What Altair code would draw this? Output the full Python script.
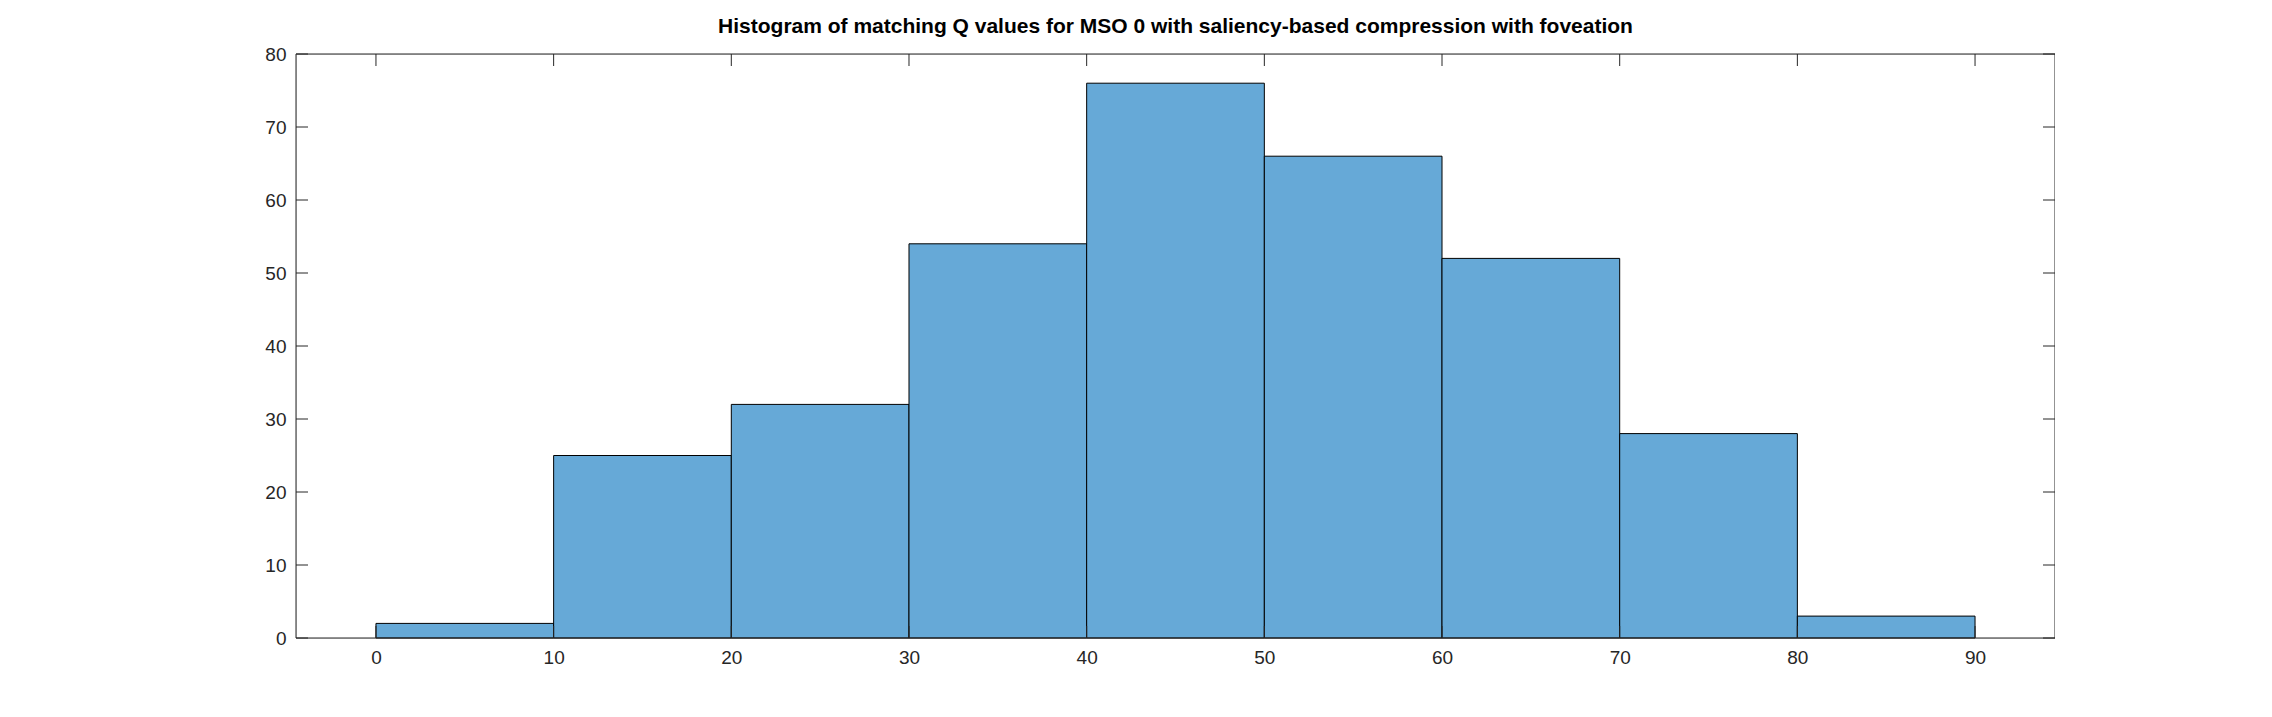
import altair as alt
import pandas as pd

bin_start = [0, 10, 20, 30, 40, 50, 60, 70, 80]
counts = [2, 25, 32, 54, 76, 66, 52, 28, 3]
x_ticks = [0, 10, 20, 30, 40, 50, 60, 70, 80, 90]
y_ticks = [0, 10, 20, 30, 40, 50, 60, 70, 80]

df = pd.DataFrame({"start": bin_start, "end": [b + 10 for b in bin_start], "count": counts})
W, H = 1759, 584

xs = alt.Scale(domain=[-4.5, 94.5], nice=False, zero=False)
ys = alt.Scale(domain=[0, 80], nice=False)
font = "Liberation Sans"

bars = alt.Chart(df).mark_rect(color="#66a9d7", stroke="black", strokeWidth=1).encode(
    x=alt.X("start:Q", scale=xs, axis=alt.Axis(values=x_ticks, title=None, grid=False, ticks=False,
            labelFont=font, labelFontSize=19, labelColor="#262626", labelPadding=10, domain=False)),
    x2="end:Q",
    y=alt.Y("count:Q", scale=ys, axis=alt.Axis(values=y_ticks, title=None, grid=False, ticks=False,
            labelFont=font, labelFontSize=19, labelColor="#262626", labelPadding=10, domain=False)),
    y2=alt.datum(0),
)

xt = pd.DataFrame({"v": x_ticks})
yt = pd.DataFrame({"v": y_ticks})
tc = "#262626"
xb = alt.Chart(xt).mark_rule(color=tc).encode(x=alt.X("v:Q", scale=xs), y=alt.value(H), y2=alt.value(H - 12))
xtp = alt.Chart(xt).mark_rule(color=tc).encode(x=alt.X("v:Q", scale=xs), y=alt.value(0), y2=alt.value(12))
yl = alt.Chart(yt).mark_rule(color=tc).encode(y=alt.Y("v:Q", scale=ys), x=alt.value(0), x2=alt.value(12))
yr = alt.Chart(yt).mark_rule(color=tc).encode(y=alt.Y("v:Q", scale=ys), x=alt.value(W), x2=alt.value(W - 12))
border = alt.Chart(pd.DataFrame({"a": [0]})).mark_rect(fill=None, fillOpacity=0, stroke=tc, strokeWidth=1).encode(
    x=alt.value(0), x2=alt.value(W), y=alt.value(0), y2=alt.value(H))

chart = alt.layer(bars, xb, xtp, yl, yr, border).properties(
    width=W, height=H,
    title=alt.TitleParams("Histogram of matching Q values for MSO 0 with saliency-based compression with foveation",
                          font=font, fontSize=21, fontWeight="bold", color="black", offset=8),
    autosize=alt.AutoSizeParams(type="none"),
    padding={"left": 288, "top": 46, "right": 0, "bottom": 79},
).configure_view(stroke=None).configure(background="white")

chart.save("out.html", embed_options={"renderer": "svg", "actions": False})
